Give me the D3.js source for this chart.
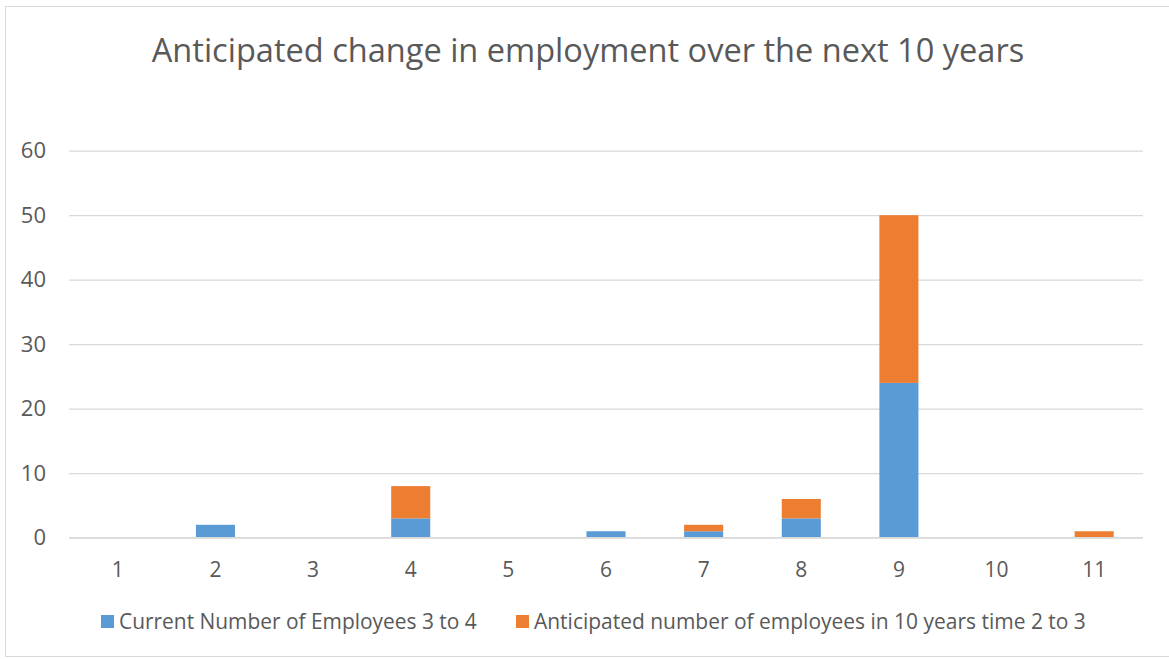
<!DOCTYPE html>
<html>
<head>
<meta charset="utf-8">
<script src="https://cdn.jsdelivr.net/npm/d3@7"></script>
<style>
  html, body { margin: 0; padding: 0; background: #fff; }
  svg { display: block; }
  text { font-family: "Open Sans", "Noto Sans", sans-serif; fill: #595959; }
</style>
</head>
<body>
<svg id="chart" width="1169" height="659"></svg>
<script>
// Categories and stacked series values
const categories = ["1", "2", "3", "4", "5", "6", "7", "8", "9", "10", "11"];
const currentEmployees = [0, 2, 0, 3, 0, 1, 1, 3, 24, 0, 0];
const anticipatedEmployees = [0, 0, 0, 5, 0, 0, 1, 3, 26, 0, 1];
const seriesNames = ["Current Number of Employees 3 to 4", "Anticipated number of employees in 10 years time 2 to 3"];
const seriesColors = ["#5b9bd5", "#ed7d31"];
const yTicks = [0, 10, 20, 30, 40, 50, 60];
const titleText = "Anticipated change in employment over the next 10 years";

const svg = d3.select("#chart");
const W = 1169, H = 659;

// Outer chart frame
svg.append("rect")
  .attr("x", 5.5).attr("y", 6.5)
  .attr("width", W + 10).attr("height", H - 9)
  .attr("fill", "#fff").attr("stroke", "#d9d9d9").attr("stroke-width", 1);

const plot = { left: 69, right: 1143, top: 150.7, bottom: 537.7 };

const x = d3.scaleBand().domain(categories)
  .range([plot.left, plot.right]).paddingInner(0.6).paddingOuter(0.3);
const y = d3.scaleLinear().domain([0, 60]).range([plot.bottom, plot.top]);

// Horizontal gridlines and y labels
const yAxis = d3.axisLeft(y).tickValues(yTicks).tickSize(-(plot.right - plot.left)).tickPadding(23);
const gy = svg.append("g").attr("transform", `translate(${plot.left},0)`).call(yAxis);
gy.select(".domain").remove();
gy.selectAll(".tick line").attr("stroke", "#d9d9d9").attr("stroke-width", 1.3);
gy.selectAll(".tick text").attr("font-size", 22).attr("fill", "#595959")
  .style("font-family", '"Open Sans", sans-serif');

// Stacked bars
const rows = categories.map((c, i) => ({ cat: c, cur: currentEmployees[i], ant: anticipatedEmployees[i] }));
const stack = d3.stack().keys(["cur", "ant"])(rows);
svg.append("g").selectAll("g").data(stack).join("g")
  .attr("fill", (d, i) => seriesColors[i])
  .selectAll("rect").data(d => d.filter(s => s[1] - s[0] > 0)).join("rect")
  .attr("x", d => x(d.data.cat))
  .attr("width", x.bandwidth())
  .attr("y", d => y(d[1]))
  .attr("height", d => y(d[0]) - y(d[1]));

// x axis baseline and labels
const xAxis = d3.axisBottom(x).tickSize(0);
const gx = svg.append("g").attr("transform", `translate(0,${plot.bottom})`).call(xAxis);
gx.select(".domain").attr("d", `M${plot.left},0H${plot.right}`)
  .attr("stroke", "#d9d9d9").attr("stroke-width", 1.3);
gx.selectAll(".tick text").attr("font-size", 21).attr("fill", "#595959")
  .attr("dy", null).attr("y", 39.5)
  .style("font-family", '"Open Sans", sans-serif');

// Title
const title = svg.append("text")
  .attr("x", 588).attr("y", 62)
  .attr("text-anchor", "middle")
  .attr("font-size", 30)
  .text(titleText);
const tw = title.node().getComputedTextLength();
title.attr("font-size", 30 * 873 / tw);

// Legend
const legendItems = [
  { name: seriesNames[0], color: seriesColors[0], x: 101 },
  { name: seriesNames[1], color: seriesColors[1], x: 516 }
];
const targetWidths = [358, 552];
const lg = svg.append("g");
legendItems.forEach((d, i) => {
  lg.append("rect").attr("x", d.x).attr("y", 615).attr("width", 13).attr("height", 13).attr("fill", d.color);
  const t = lg.append("text").attr("x", d.x + 18).attr("y", 629).attr("font-size", 18).text(d.name);
  const w = t.node().getComputedTextLength();
  t.attr("font-size", 18 * targetWidths[i] / w);
});
</script>
</body>
</html>
